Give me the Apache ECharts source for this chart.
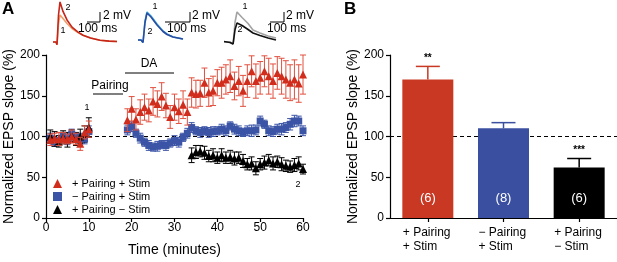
<!DOCTYPE html>
<html>
<head>
<meta charset="utf-8">
<script src="https://cdn.jsdelivr.net/npm/echarts@6/dist/echarts.min.js"></script>
<style>
  html, body { margin: 0; padding: 0; background: #fff; }
  #chart { width: 617px; height: 262px; }
</style>
</head>
<body>
<div id="chart"></div>
<script>
// ---- panel A data (minutes, % of baseline) ----
const tBase = [1, 2, 3, 4, 5, 6, 7, 8, 9, 10]
const tPost = [19, 20, 21, 22, 23, 24, 25, 26, 27, 28, 29, 30, 31, 32, 33, 34, 35, 36, 37, 38, 39,
  40, 41, 42, 43, 44, 45, 46, 47, 48, 49, 50, 51, 52, 53, 54, 55, 56, 57, 58, 59, 60]
const tBlackPost = [34, 35, 36, 37, 38, 39, 40, 41, 42, 43, 44, 45, 46, 47, 48, 49, 50, 51, 52,
  53, 54, 55, 56, 57, 58, 59, 60]

const redBase = [96, 98, 97, 98, 97, 100, 97, 91, 105, 109]
const redBaseErr = [7, 6, 8, 7, 6, 8, 7, 8, 8, 10]
const redPost = [120, 134, 121, 130, 136, 132, 143, 140, 149, 138, 124, 136, 131, 139, 130, 154, 152,
  153, 166, 154, 156, 166, 166, 170, 174, 162, 168, 156, 168, 180, 168, 172, 180, 174, 168, 178,
  174, 170, 166, 170, 165, 176]
const redPostErr = [14, 15, 13, 15, 16, 14, 17, 16, 17, 15, 14, 16, 15, 17, 16, 18, 17, 16, 18, 17,
  18, 16, 19, 18, 20, 17, 18, 19, 20, 19, 21, 20, 19, 22, 21, 20, 22, 23, 22, 24, 23, 24]

const blueBase = [98, 93, 95, 100, 96, 103, 99, 98, 97, 106]
const blueBaseErr = [6, 5, 6, 5, 6, 6, 5, 6, 6, 7]
const bluePost = [108, 112, 104, 98, 93, 89, 87, 88, 90, 89, 92, 95, 93, 99, 104, 111, 107, 105, 107,
  105, 106, 107, 109, 107, 113, 109, 107, 105, 107, 107, 108, 119, 115, 107, 106, 109, 109, 111,
  115, 119, 119, 107]
const bluePostErr = [6, 6, 5, 6, 5, 6, 5, 6, 5, 6, 5, 6, 6, 5, 6, 6, 5, 6, 5, 6, 6, 5, 6, 6, 5, 6,
  6, 5, 6, 7, 6, 6, 5, 6, 6, 6, 7, 6, 7, 7, 6, 6]

const blackBase = [100, 97, 94, 99, 96, 101, 97, 100, 103, 111]
const blackBaseErr = [8, 9, 7, 8, 9, 7, 8, 9, 10, 12]
const blackPost = [77, 81, 82, 80, 76, 77, 74, 77, 74, 75, 73, 74, 70, 66, 67, 61, 66, 68, 71, 67,
  69, 66, 64, 63, 65, 67, 60]
const blackPostErr = [9, 8, 7, 8, 7, 8, 7, 8, 7, 8, 8, 7, 8, 7, 8, 8, 7, 8, 7, 8, 7, 8, 7, 7, 8, 8, 6]

const seriesNames = ['+ Pairing + Stim', '\u2212 Pairing + Stim', '+ Pairing \u2212 Stim']

// ---- panel B data ----
const bCategories = ['+ Pairing\n+ Stim', '\u2212 Pairing\n+ Stim', '+ Pairing\n\u2212 Stim']
const bValues = [170, 110, 62]
const bErr = [16, 7, 11]
const bN = [6, 8, 6]
const bSig = ['**', '', '***']

// ---- example traces (ms, mV) ----
const trace1T = [0, 24, 32, 44, 56, 80, 112, 152, 200, 240, 300, 376, 448, 512]
const trace1A = [0, 0, -0.6, 4, 6.0, 5.2, 4.1, 3.0, 2.1, 1.5, 0.9, 0.4, 0.2, 0.1]
const trace1B = [0, 0, -0.6, 6, 8.9, 6.8, 4.9, 3.3, 2.2, 1.5, 0.9, 0.4, 0.2, 0.1]
const trace2T = [0, 12, 20, 28, 36, 52, 76, 100, 116, 140, 180]
const trace2A = [0, 0, -0.5, 3.8, 5.6, 4.8, 3.2, 1.8, 1.2, 0.6, 0.2]
const trace2B = [0, 0, -0.5, 3.5, 5.4, 4.6, 3.0, 1.7, 1.1, 0.6, 0.2]
const trace3T = [0, 46, 70, 85, 100, 139, 185, 223, 277, 339, 400]
const trace3A = [0, 0, -0.4, 4, 6.0, 4.9, 3.7, 2.4, 1.8, 1.2, 0.8]
const trace3B = [0.1, -0.1, -0.4, 2.5, 3.8, 3.3, 2.5, 1.8, 1.3, 0.8, 0.4]

const FONT = '"Liberation Sans", Arial, sans-serif'
const RED = '#d12d1d'
const RED_ERR = '#e0503f'
const BLUE = '#3b54a6'
const BLACK = '#000'
const BAR_COLORS = ['#c93823', '#3a4f9f', '#000']

const zip = (xs, ys) => xs.map((x, i) => [x, ys[i]])
const zipErr = (xs, ys, es) => xs.map((x, i) => [x, ys[i] - es[i], ys[i] + es[i]])

function errBars(color, capHalf) {
  return (params, api) => {
    const x = api.value(0)
    const lo = api.coord([x, api.value(1)])
    const hi = api.coord([x, api.value(2)])
    const style = { stroke: color, lineWidth: 1 }
    return {
      type: 'group',
      children: [
        { type: 'line', shape: { x1: lo[0], y1: lo[1], x2: hi[0], y2: hi[1] }, style },
        { type: 'line', shape: { x1: lo[0] - capHalf, y1: lo[1], x2: lo[0] + capHalf, y2: lo[1] }, style },
        { type: 'line', shape: { x1: hi[0] - capHalf, y1: hi[1], x2: hi[0] + capHalf, y2: hi[1] }, style }
      ]
    }
  }
}

const axisLine = { show: true, lineStyle: { color: '#000', width: 1.2 } }
const axisTick = { show: true, length: 4, lineStyle: { color: '#000', width: 1.2 } }
const labelStyle = { color: '#000', fontSize: 12, fontFamily: FONT }
const nameStyle = { color: '#000', fontSize: 14, fontFamily: FONT }
const hiddenAxis = { show: false, type: 'value' }

const chart = echarts.init(document.getElementById('chart'))

const option = {
  animation: false,
  backgroundColor: '#fff',
  grid: [
    { left: 46, top: 55, width: 257, height: 165 },
    { left: 390, top: 55, width: 227, height: 163 },
    { left: 53, top: 0, width: 64, height: 46 },
    { left: 138, top: 0, width: 45, height: 46 },
    { left: 224, top: 0, width: 52, height: 46 }
  ],
  xAxis: [
    {
      gridIndex: 0, type: 'value', min: 0, max: 60, interval: 10,
      axisLine, axisTick, splitLine: { show: false },
      axisLabel: { ...labelStyle, margin: 4 },
      name: 'Time (minutes)', nameLocation: 'middle', nameGap: 25, nameTextStyle: nameStyle
    },
    {
      gridIndex: 1, type: 'category', data: bCategories,
      axisLine, axisTick: { ...axisTick, alignWithLabel: true }, splitLine: { show: false },
      axisLabel: { ...labelStyle, lineHeight: 14, margin: 8, align: 'left', padding: [0, 0, 0, -25] }
    },
    { ...hiddenAxis, gridIndex: 2, min: 0, max: 512 },
    { ...hiddenAxis, gridIndex: 3, min: 0, max: 180 },
    { ...hiddenAxis, gridIndex: 4, min: 0, max: 400 }
  ],
  yAxis: [
    {
      gridIndex: 0, type: 'value', min: 0, max: 200, interval: 50,
      axisLine, axisTick, splitLine: { show: false },
      axisLabel: { ...labelStyle, margin: 6 },
      name: 'Normalized EPSP slope (%)', nameLocation: 'middle', nameGap: 26, nameTextStyle: nameStyle
    },
    {
      gridIndex: 1, type: 'value', min: 0, max: 200, interval: 50,
      axisLine, axisTick, splitLine: { show: false },
      axisLabel: { ...labelStyle, margin: 6 },
      name: 'Normalized EPSP slope (%)', nameLocation: 'middle', nameGap: 27, nameTextStyle: nameStyle
    },
    { ...hiddenAxis, gridIndex: 2, min: -0.89, max: 9.33 },
    { ...hiddenAxis, gridIndex: 3, min: -1.2, max: 8 },
    { ...hiddenAxis, gridIndex: 4, min: -0.8, max: 8.4 }
  ],
  legend: {
    orient: 'vertical', left: 48, top: 173, itemWidth: 9, itemHeight: 9, itemGap: 2,
    selectedMode: false,
    data: [
      { name: seriesNames[0], icon: 'triangle' },
      { name: seriesNames[1], icon: 'rect' },
      { name: seriesNames[2], icon: 'triangle' }
    ],
    textStyle: { color: '#000', fontSize: 11, fontFamily: FONT, padding: [0, 0, 0, 5] }
  },
  series: [
    // blue
    {
      name: 'err-blue', type: 'custom', xAxisIndex: 0, yAxisIndex: 0, z: 2,
      renderItem: errBars(BLUE, 3), encode: { x: 0, y: [1, 2] },
      data: zipErr(tBase, blueBase, blueBaseErr).concat(zipErr(tPost, bluePost, bluePostErr)),
      markLine: {
        silent: true, symbol: 'none', label: { show: false }, z: 1,
        lineStyle: { type: [4, 3], color: '#000', width: 1 },
        data: [{ yAxis: 100 }]
      }
    },
    {
      name: seriesNames[1], type: 'scatter', xAxisIndex: 0, yAxisIndex: 0, z: 3,
      symbol: 'rect', symbolSize: 7, itemStyle: { color: BLUE, opacity: 1 },
      data: zip(tBase, blueBase).concat(zip(tPost, bluePost))
    },
    // black
    {
      name: 'err-black', type: 'custom', xAxisIndex: 0, yAxisIndex: 0, z: 2,
      renderItem: errBars(BLACK, 3), encode: { x: 0, y: [1, 2] },
      data: zipErr(tBase, blackBase, blackBaseErr).concat(zipErr(tBlackPost, blackPost, blackPostErr))
    },
    {
      name: seriesNames[2], type: 'scatter', xAxisIndex: 0, yAxisIndex: 0, z: 3,
      symbol: 'triangle', symbolSize: 8, itemStyle: { color: BLACK, opacity: 1 },
      data: zip(tBase, blackBase).concat(zip(tBlackPost, blackPost))
    },
    // red
    {
      name: 'err-red', type: 'custom', xAxisIndex: 0, yAxisIndex: 0, z: 4,
      renderItem: errBars(RED_ERR, 3), encode: { x: 0, y: [1, 2] },
      data: zipErr(tBase, redBase, redBaseErr).concat(zipErr(tPost, redPost, redPostErr))
    },
    {
      name: seriesNames[0], type: 'scatter', xAxisIndex: 0, yAxisIndex: 0, z: 5,
      symbol: 'triangle', symbolSize: 8, itemStyle: { color: RED, opacity: 1 },
      data: zip(tBase, redBase).concat(zip(tPost, redPost))
    },
    // panel B
    {
      name: 'bars', type: 'bar', xAxisIndex: 1, yAxisIndex: 1, z: 3, barWidth: 51,
      data: bValues.map((v, i) => ({ value: v, itemStyle: { color: BAR_COLORS[i] } })),
      label: {
        show: true, position: 'insideBottom', distance: 13, color: '#fff', fontSize: 13, fontFamily: FONT,
        formatter: p => '(' + bN[p.dataIndex] + ')'
      },
      markLine: {
        silent: true, symbol: 'none', label: { show: false }, z: 1,
        lineStyle: { type: [4, 3], color: '#000', width: 1 },
        data: [{ yAxis: 100 }]
      }
    },
    {
      name: 'bars-err', type: 'custom', xAxisIndex: 1, yAxisIndex: 1, z: 4,
      encode: { x: 0, y: [1, 2] },
      data: bValues.map((v, i) => [i, v, v + bErr[i]]),
      renderItem: (params, api) => {
        const i = params.dataIndex
        const lo = api.coord([api.value(0), api.value(1)])
        const hi = api.coord([api.value(0), api.value(2)])
        const style = { stroke: BAR_COLORS[i], lineWidth: 1.5 }
        return {
          type: 'group',
          children: [
            { type: 'line', shape: { x1: lo[0], y1: lo[1], x2: hi[0], y2: hi[1] }, style },
            { type: 'line', shape: { x1: hi[0] - 12, y1: hi[1], x2: hi[0] + 12, y2: hi[1] }, style },
            {
              type: 'text',
              style: {
                text: bSig[i], x: hi[0], y: hi[1] - 3, align: 'center', verticalAlign: 'bottom',
                fill: '#000', font: 'bold 10px ' + FONT
              }
            }
          ]
        }
      }
    },
    // example traces
    {
      type: 'line', xAxisIndex: 2, yAxisIndex: 2, showSymbol: false, silent: true,
      lineStyle: { color: '#f0a06a', width: 1.6 }, data: zip(trace1T, trace1A)
    },
    {
      type: 'line', xAxisIndex: 2, yAxisIndex: 2, showSymbol: false, silent: true,
      lineStyle: { color: '#c4261a', width: 1.6 }, data: zip(trace1T, trace1B)
    },
    {
      type: 'line', xAxisIndex: 3, yAxisIndex: 3, showSymbol: false, silent: true,
      lineStyle: { color: '#3fb2e6', width: 1.6 }, data: zip(trace2T, trace2A)
    },
    {
      type: 'line', xAxisIndex: 3, yAxisIndex: 3, showSymbol: false, silent: true,
      lineStyle: { color: '#2b4c9e', width: 1.6 }, data: zip(trace2T, trace2B)
    },
    {
      type: 'line', xAxisIndex: 4, yAxisIndex: 4, showSymbol: false, silent: true,
      lineStyle: { color: '#a3a3a3', width: 1.6 }, data: zip(trace3T, trace3A)
    },
    {
      type: 'line', xAxisIndex: 4, yAxisIndex: 4, showSymbol: false, silent: true,
      lineStyle: { color: '#111', width: 1.6 }, data: zip(trace3T, trace3B)
    }
  ],
  graphic: [
    { type: 'text', style: { text: 'A', x: 2, y: 1, font: 'bold 17px ' + FONT, fill: '#000' } },
    { type: 'text', style: { text: 'B', x: 344, y: 1, font: 'bold 17px ' + FONT, fill: '#000' } },
    // Pairing / DA bars
    { type: 'text', style: { text: 'Pairing', x: 110, y: 86, align: 'center', verticalAlign: 'middle', font: '12px ' + FONT, fill: '#000' } },
    { type: 'line', shape: { x1: 93, y1: 94, x2: 123, y2: 94 }, style: { stroke: '#000', lineWidth: 1 } },
    { type: 'text', style: { text: 'DA', x: 149, y: 64, align: 'center', verticalAlign: 'middle', font: '12px ' + FONT, fill: '#000' } },
    { type: 'line', shape: { x1: 125, y1: 73, x2: 174, y2: 73 }, style: { stroke: '#000', lineWidth: 1 } },
    { type: 'text', style: { text: '1', x: 87, y: 108, align: 'center', verticalAlign: 'middle', font: '9px ' + FONT, fill: '#000' } },
    { type: 'text', style: { text: '2', x: 298, y: 185, align: 'center', verticalAlign: 'middle', font: '9px ' + FONT, fill: '#000' } },
    // trace labels
    { type: 'text', style: { text: '2', x: 68, y: 8, align: 'center', verticalAlign: 'middle', font: '9px ' + FONT, fill: '#000' } },
    { type: 'text', style: { text: '1', x: 63, y: 31, align: 'center', verticalAlign: 'middle', font: '9px ' + FONT, fill: '#000' } },
    { type: 'text', style: { text: '1', x: 155, y: 7, align: 'center', verticalAlign: 'middle', font: '9px ' + FONT, fill: '#000' } },
    { type: 'text', style: { text: '2', x: 150, y: 32, align: 'center', verticalAlign: 'middle', font: '9px ' + FONT, fill: '#000' } },
    { type: 'text', style: { text: '1', x: 245, y: 7, align: 'center', verticalAlign: 'middle', font: '9px ' + FONT, fill: '#000' } },
    { type: 'text', style: { text: '2', x: 240, y: 30, align: 'center', verticalAlign: 'middle', font: '9px ' + FONT, fill: '#000' } },
    // scale bars
    { type: 'polyline', shape: { points: [[87, 22], [100, 22], [100, 12]] }, style: { stroke: '#000', lineWidth: 1, fill: null } },
    { type: 'text', style: { text: '2 mV', x: 103, y: 16, verticalAlign: 'middle', font: '12px ' + FONT, fill: '#000' } },
    { type: 'text', style: { text: '100 ms', x: 78, y: 29, verticalAlign: 'middle', font: '12px ' + FONT, fill: '#000' } },
    { type: 'polyline', shape: { points: [[165, 22], [190, 22], [190, 12]] }, style: { stroke: '#000', lineWidth: 1, fill: null } },
    { type: 'text', style: { text: '2 mV', x: 192, y: 16, verticalAlign: 'middle', font: '12px ' + FONT, fill: '#000' } },
    { type: 'text', style: { text: '100 ms', x: 167, y: 29, verticalAlign: 'middle', font: '12px ' + FONT, fill: '#000' } },
    { type: 'polyline', shape: { points: [[270, 22], [284, 22], [284, 12]] }, style: { stroke: '#000', lineWidth: 1, fill: null } },
    { type: 'text', style: { text: '2 mV', x: 286, y: 16, verticalAlign: 'middle', font: '12px ' + FONT, fill: '#000' } },
    { type: 'text', style: { text: '100 ms', x: 267, y: 29, verticalAlign: 'middle', font: '12px ' + FONT, fill: '#000' } }
  ]
}

chart.setOption(option)
</script>
</body>
</html>
